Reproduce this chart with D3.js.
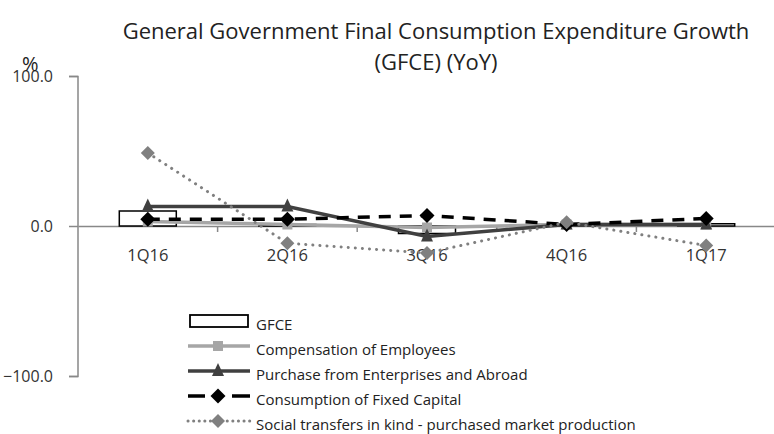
<!DOCTYPE html>
<html><head><meta charset="utf-8">
<script src="https://cdn.jsdelivr.net/npm/d3@7"></script>
<style>body{margin:0;background:#fff}svg{display:block}</style>
</head><body><svg id="c" width="774" height="434"></svg>
<script>
const categories = ["1Q16","2Q16","3Q16","4Q16","1Q17"];
const gfce = [10, 1, -5, 1, 1.5];
const compensation = [3, 1, -1, 1, 1];
const purchase = [13, 13, -7, 1, 1];
const fixedCapital = [4.5, 4.5, 7, 1, 5];
const socialTransfers = [48.7, -11.5, -18, 2.5, -13];
const yTicks = [100, 0, -100];
const titleLines = ["General Government Final Consumption Expenditure Growth", "(GFCE) (YoY)"];
const legendLabels = ["GFCE","Compensation of Employees","Purchase from Enterprises and Abroad","Consumption of Fixed Capital","Social transfers in kind - purchased market production"];

const font = "'Open Sans', sans-serif";
const svg = d3.select("#c");
const x = d3.scaleBand().domain(categories).range([78, 776]);
const y = d3.scaleLinear().domain([-100, 100]).range([376, 76]);

// title
svg.selectAll("text.title").data(titleLines).enter().append("text")
  .attr("x", 436).attr("y", (d,i)=>39 + i*31).attr("text-anchor","middle")
  .attr("font-family", font).attr("font-size", 22).attr("fill","#222").text(d=>d);

// y axis
const yAxis = d3.axisLeft(y).tickValues(yTicks).tickFormat(d3.format(".1f")).tickSize(9).tickPadding(16);
const gy = svg.append("g").attr("transform","translate(78,0)").call(yAxis);
gy.select(".domain").attr("stroke","#888").attr("stroke-width",1.5).attr("d","M-9,76.5H0V376.5H-9");
gy.selectAll(".tick line").attr("stroke","#888").attr("stroke-width",1.5);
gy.selectAll(".tick text").attr("font-family",font).attr("font-size",16).attr("fill","#333");
svg.append("text").attr("x",22).attr("y",71).attr("font-family",font).attr("font-size",20).attr("fill","#222").text("%");

// x axis at zero
const xAxis = d3.axisBottom(x).tickSize(0).tickPadding(23);
const gx = svg.append("g").attr("transform",`translate(0,${y(0)})`).call(xAxis);
gx.select(".domain").attr("stroke","#888").attr("stroke-width",1.5);
gx.selectAll(".tick text").attr("font-family",font).attr("font-size",16.5).attr("fill","#333");
// boundary ticks
svg.selectAll("line.bt").data(categories.slice(1)).enter().append("line")
  .attr("x1",d=>x(d)).attr("x2",d=>x(d)).attr("y1",y(0)).attr("y2",y(0)+6)
  .attr("stroke","#888").attr("stroke-width",1.5);

const cx = d => x(d) + x.bandwidth()/2;
const bw = 57;

// GFCE bars
svg.selectAll("rect.bar").data(categories).enter().append("rect")
  .attr("x", d=>cx(d)-bw/2).attr("width", bw)
  .attr("y", (d,i)=>Math.min(y(gfce[i]), y(0)))
  .attr("height", (d,i)=>Math.abs(y(gfce[i])-y(0)))
  .attr("fill","#fff").attr("stroke","#000").attr("stroke-width",1.5);

const markerPath = {
  square: "M-5,-5H5V5H-5Z",
  triangle: "M0,-8L6,5H-6Z",
  diamond: "M0,-7.5L7.5,0L0,7.5L-7.5,0Z",
  diamondS: "M0,-7L7,0L0,7L-7,0Z"
};
const line = d3.line().x(d=>cx(d.c)).y(d=>y(d.v));
const series = [
  {vals: compensation, color:"#a6a6a6", width:3.5, dash:null, ldash:null, marker:"square", mcolor:"#a6a6a6"},
  {vals: purchase, color:"#404040", width:3.5, dash:null, ldash:null, marker:"triangle", mcolor:"#404040"},
  {vals: fixedCapital, color:"#000", width:3.5, dash:"12,9", ldash:"17,27,20", marker:"diamond", mcolor:"#000"},
  {vals: socialTransfers, color:"#808080", width:3, dash:"0.1,7", ldash:"0.1,5.5", marker:"diamondS", mcolor:"#808080", cap:"round"}
];

series.forEach(s=>{
  const pts = categories.map((c,i)=>({c, v:s.vals[i]}));
  svg.append("path").attr("d", line(pts)).attr("fill","none")
    .attr("stroke", s.color).attr("stroke-width", s.width)
    .attr("stroke-dasharray", s.dash).attr("stroke-linecap", s.cap || "butt");
  svg.selectAll(null).data(pts).enter().append("path")
    .attr("d", markerPath[s.marker])
    .attr("transform", d=>`translate(${cx(d.c)},${y(d.v)})`)
    .attr("fill", s.mcolor);
});

// legend
const lg = svg.append("g");
const ly = i => 321 + i*25;
lg.append("rect").attr("x",190).attr("y",ly(0)-6).attr("width",58).attr("height",12)
  .attr("fill","#fff").attr("stroke","#000").attr("stroke-width",1.8);
series.forEach((s,k)=>{
  const i = k+1;
  lg.append("line").attr("x1",188).attr("x2",250).attr("y1",ly(i)).attr("y2",ly(i))
    .attr("stroke", s.color).attr("stroke-width", s.width)
    .attr("stroke-dasharray", s.ldash)
    .attr("stroke-linecap", s.cap || "butt");
  lg.append("path").attr("d", markerPath[s.marker])
    .attr("transform",`translate(218,${ly(i)})`).attr("fill", s.mcolor);
});
lg.selectAll("text").data(legendLabels).enter().append("text")
  .attr("x",256).attr("y",(d,i)=>ly(i)+9).attr("font-family",font).attr("font-size",15)
  .attr("fill","#222").text(d=>d);
</script></body></html>
